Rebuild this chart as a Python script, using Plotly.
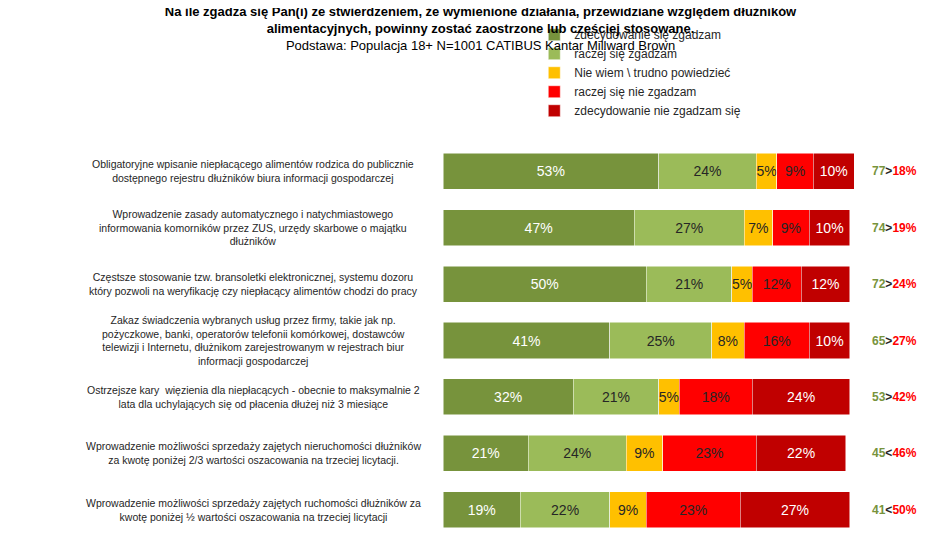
import plotly.graph_objects as go

items = [
    "Obligatoryjne wpisanie niepłacącego alimentów rodzica do publicznie<br>dostępnego rejestru dłużników biura informacji gospodarczej",
    "Wprowadzenie zasady automatycznego i natychmiastowego<br>informowania komorników przez ZUS, urzędy skarbowe o majątku<br>dłużników",
    "Częstsze stosowanie tzw. bransoletki elektronicznej, systemu dozoru<br>który pozwoli na weryfikację czy niepłacący alimentów chodzi do pracy",
    "Zakaz świadczenia wybranych usług przez firmy, takie jak np.<br>pożyczkowe, banki, operatorów telefonii komórkowej, dostawców<br>telewizji i Internetu, dłużnikom zarejestrowanym w rejestrach biur<br>informacji gospodarczej",
    "Ostrzejsze kary  więzienia dla niepłacących - obecnie to maksymalnie 2<br>lata dla uchylających się od płacenia dłużej niż 3 miesiące",
    "Wprowadzenie możliwości sprzedaży zajętych nieruchomości dłużników<br>za kwotę poniżej 2/3 wartości oszacowania na trzeciej licytacji.",
    "Wprowadzenie możliwości sprzedaży zajętych ruchomości dłużników za<br>kwotę poniżej ½ wartości oszacowania na trzeciej licytacji",
]
series = ["zdecydowanie się zgadzam", "raczej się zgadzam", "Nie wiem \\ trudno powiedzieć",
          "raczej się nie zgadzam", "zdecydowanie nie zgadzam się"]
values = [
    [53, 47, 50, 41, 32, 21, 19],
    [24, 27, 21, 25, 21, 24, 22],
    [5, 7, 5, 8, 5, 9, 9],
    [9, 9, 12, 16, 18, 23, 23],
    [10, 10, 12, 10, 24, 22, 27],
]
agree = [77, 74, 72, 65, 53, 45, 41]
disagree = [18, 19, 24, 27, 42, 46, 50]
signs = [">", ">", ">", ">", ">", "<", "<"]

colors = ["#77933C", "#9BBB59", "#FFC000", "#FF0000", "#C00000"]
text_colors = ["white", "#262626", "#262626", "#262626", "white"]
font = "Liberation Sans Narrow, Liberation Sans, Arial"

ykeys = list(range(len(items)))
fig = go.Figure()
for name, vals, c, tc in zip(series, values, colors, text_colors):
    fig.add_trace(go.Bar(
        y=ykeys, x=vals, name=name, orientation="h",
        marker=dict(color=c, line=dict(color="white", width=0.5)),
        text=[f"{v}%" for v in vals], textposition="inside", insidetextanchor="middle",
        textangle=0, textfont=dict(color=tc, size=14, family=font), constraintext="none",
    ))

for i, item in enumerate(items):
    fig.add_annotation(x=-0.462, y=i, xref="paper", yref="y", xanchor="center", text=item,
                       showarrow=False, align="center",
                       font=dict(size=10.5, color="#262626", family=font))
    fig.add_annotation(x=1.039, y=i, xref="paper", yref="y", xanchor="left",
                       text=(f"<b><span style='color:#77933C'>{agree[i]}</span>{signs[i]}"
                             f"<span style='color:#FF0000'>{disagree[i]}%</span></b>"),
                       showarrow=False, font=dict(size=12, color="#262626", family=font))

fig.update_layout(
    barmode="stack", bargap=0.36,
    width=945, height=558, plot_bgcolor="white", paper_bgcolor="white",
    margin=dict(l=435, r=99, t=118, b=28),
    title=dict(text="<b>Na ile zgadza się Pan(i) ze stwierdzeniem, że wymienione działania, przewidziane względem dłużników<br>alimentacyjnych, powinny zostać zaostrzone lub częściej stosowane.</b><br>Podstawa: Populacja 18+ N=1001 CATIBUS Kantar Millward Brown",
               x=0.5, xanchor="center", y=0.985, yanchor="top",
               font=dict(size=13, color="black", family=font)),
    legend=dict(orientation="h", x=0.48, xanchor="center", y=1.045, yanchor="bottom",
                font=dict(size=12, color="#262626", family=font), traceorder="normal",
                itemwidth=30),
    xaxis=dict(visible=False, range=[0, 101]),
    yaxis=dict(visible=False, autorange="reversed"),
    showlegend=True,
)
fig.write_html("out.html")
